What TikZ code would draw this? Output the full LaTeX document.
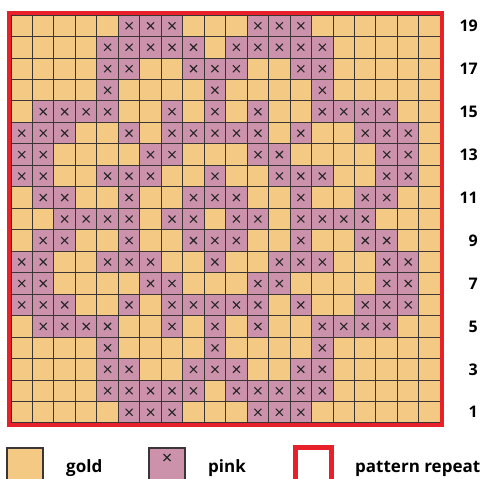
\documentclass[tikz,border=0pt]{standalone}
\usepackage{fontspec}
\setsansfont{Open Sans}
\usepackage{xcolor}
\definecolor{stitchgold}{HTML}{F4C983}
\definecolor{stitchpink}{HTML}{CC92AB}
\definecolor{repeatred}{HTML}{E8202A}
\definecolor{gridgray}{HTML}{3B3535}
\usepackage{tikz}
\newcommand\cellsz{21.47}

\begin{document}
\begin{tikzpicture}[
    x=1pt, y=1pt,
    font=\sffamily\bfseries,
    gridline/.style={draw=gridgray, line width=1pt},
    stitch/.style={draw=black!85, line width=1.1pt},
    frame/.style={draw=repeatred, line width=4pt},
    keybox/.style={draw=gridgray, line width=1.3pt},
    rowlabel/.style={anchor=east, inner sep=0pt, font=\sffamily\bfseries\fontsize{16}{16}\selectfont},
    keylabel/.style={anchor=base west, inner sep=0pt, font=\sffamily\bfseries\fontsize{17}{17}\selectfont}
  ]

  \useasboundingbox (0,0) rectangle (482,479);
  \clip (0,0) rectangle (482,479);

  % Chart background: gold
  \fill[stitchgold] (11,56) rectangle ({11+20*\cellsz},{56+19*\cellsz});

  % Pink stitches (rows 1--9 mirror rows 19--11)
  \foreach \r/\m/\cols in {19/1/{6,7,8,12,13,14},
                           18/2/{5,6,7,8,9,11,12,13,14,15},
                           17/3/{5,6,9,10,11,14,15},
                           16/4/{5,10,15},
                           15/5/{2,3,4,5,8,10,12,15,16,17,18},
                           14/6/{1,2,3,6,8,9,10,11,12,14,17,18,19},
                           13/7/{1,2,7,8,12,13,18,19},
                           12/8/{1,2,5,6,7,10,13,14,15,18,19},
                           11/9/{2,3,6,9,10,11,14,17,18},
                           10/10/{3,4,5,6,8,9,11,12,14,15,16,17}}{
    \foreach \row in {\r,\m}{
      \foreach \c in \cols{
        \fill[stitchpink] ({11+(\c-1)*\cellsz},{56+(\row-1)*\cellsz}) rectangle ++(\cellsz,\cellsz);
        \draw[stitch] ({11+(\c-0.5)*\cellsz},{56+(\row-0.5)*\cellsz}) ++(-3.5,-3.5) -- ++(7,7) ++(0,-7) -- ++(-7,7);
      }
    }
  }

  % Grid lines
  \foreach \i in {0,...,20}
    \draw[gridline] ({11+\i*\cellsz},56) -- ++(0,{19*\cellsz});
  \foreach \j in {0,...,19}
    \draw[gridline] (11,{56+\j*\cellsz}) -- ++({20*\cellsz},0);

  % Pattern repeat frame
  \draw[frame] (9,54) rectangle ({13+20*\cellsz},{58+19*\cellsz});

  % Row numbers
  \foreach \r in {1,3,...,19}
    \node[rowlabel] (row\r) at (478,{56+(\r-0.5)*\cellsz}) {\r};

  % Key
  \draw[keybox, fill=stitchgold] (7,31) rectangle (43,-10);
  \node[keylabel] (goldkey) at (66,6) {gold};
  \draw[keybox, fill=stitchpink] (149,31) rectangle (185,-10);
  \draw[stitch] (167,21.5) ++(-3.5,-3.5) -- ++(7,7) ++(0,-7) -- ++(-7,7);
  \node[keylabel] (pinkkey) at (208,6) {pink};
  \draw[frame, line width=5pt] (295.5,31.5) rectangle (331.5,-10);
  \node[keylabel] (repeatkey) at (355,6) {pattern repeat};

\end{tikzpicture}
\end{document}
